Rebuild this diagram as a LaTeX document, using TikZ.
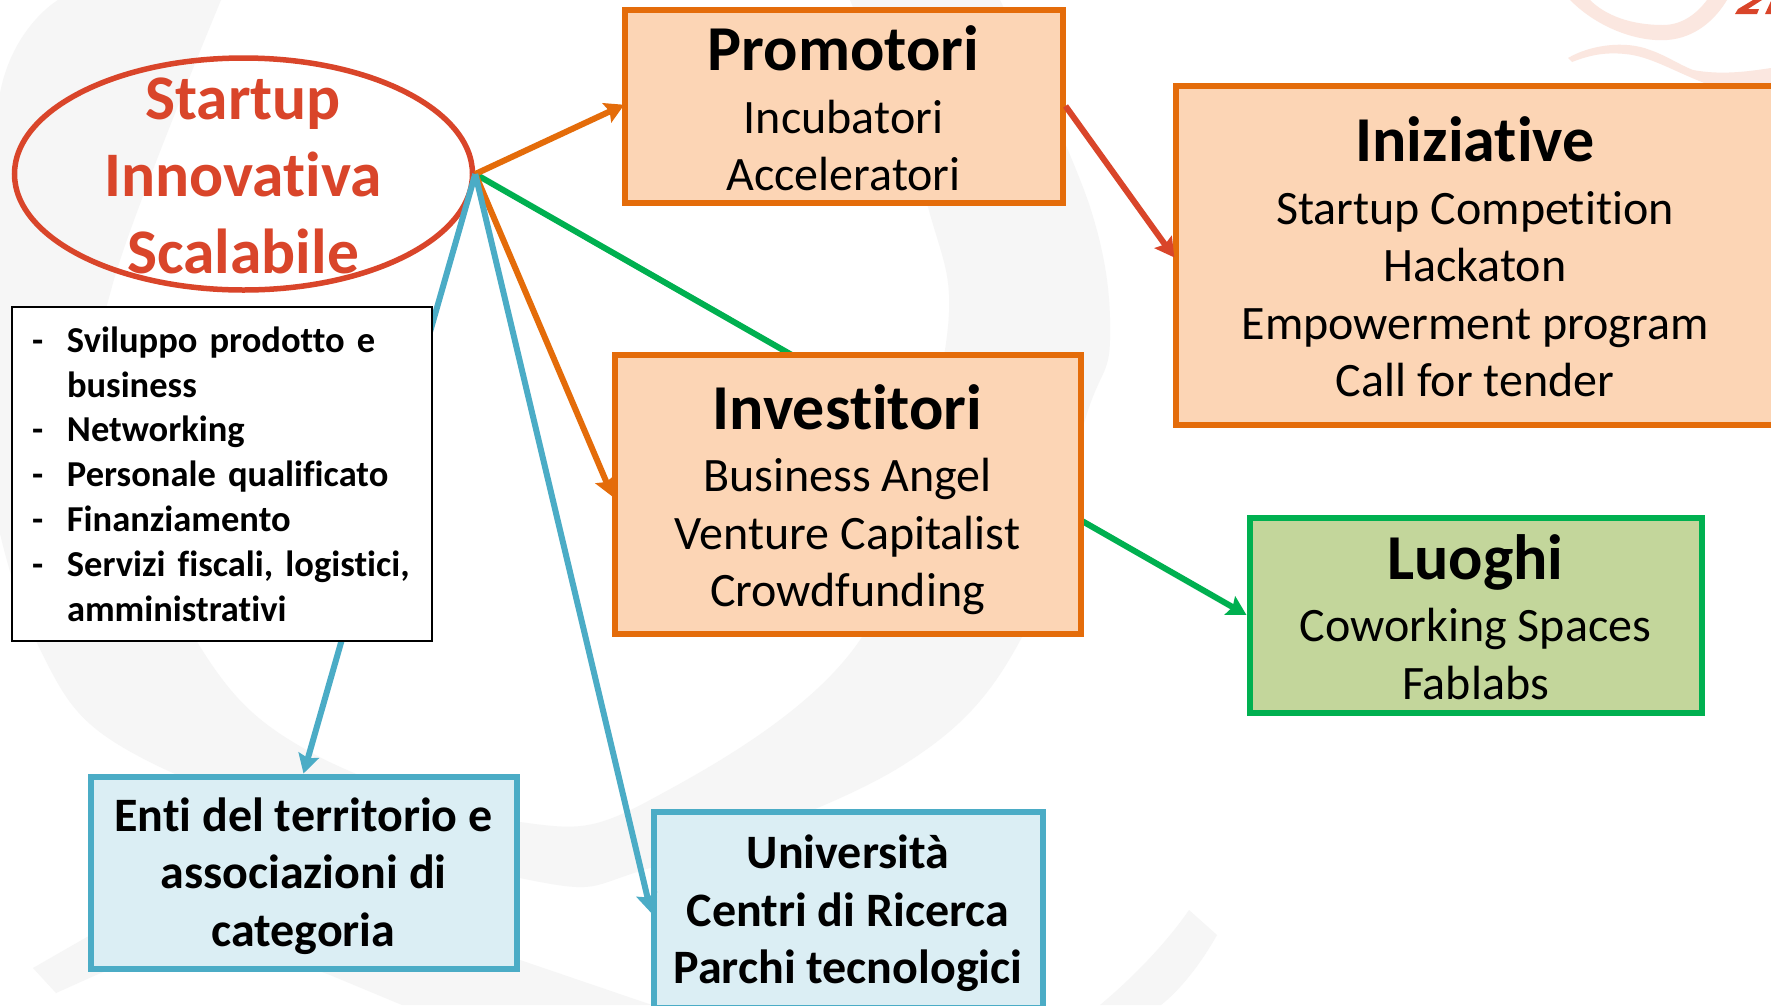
\documentclass[tikz,border=0pt]{standalone}
\usepackage{fontspec}
\setmainfont[Ligatures=NoCommon]{Carlito}
\usetikzlibrary{arrows.meta,shapes.geometric}
\pgfdeclarelayer{wm}\pgfdeclarelayer{ell}\pgfdeclarelayer{conn}
\pgfsetlayers{wm,ell,conn,main}
\definecolor{cOr}{HTML}{E46C0A}\definecolor{fOr}{HTML}{FCD5B5}
\definecolor{cBl}{HTML}{4BACC6}\definecolor{fBl}{HTML}{DBEEF4}
\definecolor{cGr}{HTML}{00B050}\definecolor{fGr}{HTML}{C3D69B}
\definecolor{cRe}{HTML}{D9452A}\definecolor{cWm}{HTML}{F6F6F6}\definecolor{cPk}{HTML}{FBE7E0}
\newcommand\bdy{\fontsize{48}{57.5}\selectfont}
\newcommand\hdr[2][46]{\rule{0pt}{#1pt}{\fontsize{64}{60}\selectfont\bfseries #2}\\[5pt]}
\newcommand\li[1]{\makebox[35pt][l]{-}#1}
\newcommand\lj[1]{\hspace*{35pt}#1}
\tikzset{x=1pt,y=-1pt,
 panel/.style={rectangle,line width=6pt,inner sep=0pt,align=center,font=\bdy,text=black},
 orbox/.style={panel,draw=cOr,fill=fOr},
 blbox/.style={panel,draw=cBl,fill=fBl,font=\bdy\bfseries},
 grbox/.style={panel,draw=cGr,fill=fGr},
 conline/.style={line width=6pt},
 tip/.style={-{Stealth[length=19pt,width=21pt,inset=3pt]}},
 reach/.style={shorten >=-3pt},
 wmark/.style={fill=cWm,draw=none},
 pmark/.style={fill=cPk,draw=none}}
\begin{document}
\begin{tikzpicture}
\useasboundingbox (0,0) rectangle (1771,1005);
\begin{pgfonlayer}{wm}
\fill[white] (0,0) rectangle (1771,1005);
\fill[wmark] plot[smooth,tension=0.6] coordinates {(221,0)(113,283)(105,420)(199,645)(312,753)(520,822)(650,800)(862,637)(945,350)(928,207)(850,0)}
 -- plot[smooth,tension=0.6] coordinates {(1000,0)(1090,207)(1110,340)(1085,420)(1022,637)(900,767)(650,868)(520,878)(160,767)(38,645)(-20,400)(0,93)(58,0)} -- cycle;
\fill[wmark] (33,968) -- (87,937) .. controls (200,880) and (350,880) .. (520,960) -- (652,1005) -- (402,1005) -- (330,975) .. controls (250,945) and (170,945) .. (96,975) -- (56,993) -- cycle;
\fill[wmark] (1189,910) -- (1217,935) .. controls (1200,965) and (1180,990) .. (1161,1005) -- (1100,1005) .. controls (1130,980) and (1165,945) .. cycle;
\fill[pmark] (1570,0) .. controls (1600,30) and (1640,42) .. (1667,40) .. controls (1695,38) and (1715,20) .. (1727,0) -- (1707,0) .. controls (1695,16) and (1680,25) .. (1663,25) .. controls (1630,25) and (1605,15) .. (1590,0) -- cycle;
\fill[pmark] (1568,58) .. controls (1590,45) and (1625,40) .. (1650,50) .. controls (1665,55) and (1680,65) .. (1693,70) .. controls (1720,75) and (1745,72) .. (1771,68) -- (1771,84) -- (1707,84) .. controls (1675,72) and (1650,56) .. (1625,54) .. controls (1605,52) and (1590,55) .. (1572,62) -- cycle;
\fill[cRe] (1735,14) -- (1738,9) -- (1753,0) -- (1762,0) -- (1748,9) -- (1759,9) -- (1757,14) -- cycle;
\fill[cRe] (1765,14) -- (1771,1) -- (1771,14) -- cycle;
\end{pgfonlayer}
\begin{pgfonlayer}{ell}
\node[ellipse,draw=cRe,line width=5.5pt,minimum width=458pt,minimum height=232pt,inner sep=0pt] (st) at (243.5,174) {};
\end{pgfonlayer}
\node[align=center,text=cRe,font=\fontsize{63.5}{77}\selectfont\bfseries,inner sep=0pt] (sttext) at (243,175.5) {Startup\\Innovativa\\Scalabile};
\node[orbox,minimum width=438pt,minimum height=193pt] (prom) at (843.5,106) {\hdr[50]{Promotori}Incubatori\\Acceleratori};
\node[orbox,minimum width=599pt,minimum height=339pt] (iniz) at (1475,255) {\hdr[49]{Iniziative}Startup Competition\\Hackaton\\Empowerment program\\Call for tender};
\node[orbox,minimum width=466pt,minimum height=279pt] (inv) at (847.5,494) {\hdr[56]{Investitori}Business Angel\\Venture Capitalist\\Crowdfunding};
\node[grbox,minimum width=452pt,minimum height=195pt] (luo) at (1475.5,615) {\hdr[49]{Luoghi}Coworking Spaces\\Fablabs};
\node[blbox,minimum width=426pt,minimum height=192pt] (enti) at (303.5,872.5) {\rule{0pt}{41pt}Enti del territorio e\\associazioni di\\categoria};
\node[blbox,minimum width=389pt,minimum height=196pt] (univ) at (848,910) {\rule{0pt}{41pt}Università\\Centri di Ricerca\\Parchi tecnologici};
\node[rectangle,draw=black,line width=2pt,fill=white,minimum width=420pt,minimum height=334pt,inner xsep=0pt,inner ysep=0pt,text width=380pt,align=left,font=\fontsize{36.5}{44.8}\selectfont\bfseries] (lst) at (222,474)
 {\li{Sviluppo prodotto e}\\\lj{business}\\\li{Networking}\\\li{Personale qualificato}\\\li{Finanziamento}\\\li{Servizi fiscali, logistici,}\\\lj{amministrativi}};
\begin{pgfonlayer}{conn}
\draw[conline,cGr,tip] (st.east) -- (luo.west);
\draw[conline,cBl,tip] (st.east) -- (enti.north);
\end{pgfonlayer}
\draw[conline,cOr,tip,reach] (st.east) -- (prom.west);
\draw[conline,cRe,tip,reach] (prom.east) -- (iniz.west);
\draw[conline,cOr,tip,reach] (st.east) -- (inv.west);
\draw[conline,cBl,tip,reach] (st.east) -- (univ.west);
\end{tikzpicture}
\end{document}
